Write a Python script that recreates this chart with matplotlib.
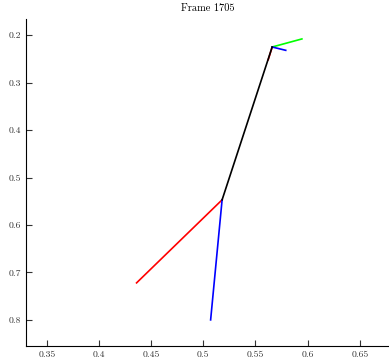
import matplotlib
matplotlib.use("Agg")
import matplotlib.pyplot as plt

plt.rcParams['font.family'] = 'serif'
plt.rcParams['font.serif'] = ['cmr10', 'DejaVu Serif']
plt.rcParams['axes.formatter.use_mathtext'] = True

# segments: (x0, x1), (y0, y1), color
seg_names = ["spine_red", "head_green", "head_blue", "leg_red", "leg_blue", "torso"]
seg_x = [[0.566, 0.5622], [0.566, 0.5945], [0.566, 0.579], [0.518, 0.436], [0.518, 0.507], [0.566, 0.518]]
seg_y = [[0.225, 0.252], [0.225, 0.208], [0.225, 0.232], [0.547, 0.722], [0.547, 0.800], [0.225, 0.547]]
seg_c = ["red", "#00ff00", "blue", "red", "blue", "black"]

xticks = [0.35, 0.4, 0.45, 0.5, 0.55, 0.6, 0.65]
yticks = [0.2, 0.3, 0.4, 0.5, 0.6, 0.7, 0.8]

fig = plt.figure(figsize=(3.89, 3.62), dpi=100)
ax = fig.add_axes([26/389, 16/362, 1 - 26/389, (346-19)/362])
for xs, ys, c in zip(seg_x, seg_y, seg_c):
    ax.plot(xs, ys, color=c, lw=1.2)
ax.set_xlim(0.330, 0.678)
ax.set_ylim(0.855, 0.166)
ax.set_xticks(xticks)
ax.set_xticklabels([f"{v:g}" for v in xticks])
ax.set_yticks(yticks)
ax.set_yticklabels([f"{v:g}" for v in yticks])
for s in ['top', 'right']:
    ax.spines[s].set_visible(False)
ax.tick_params(direction='in', length=4, labelsize=7, colors='#333333')
ax.set_title("Frame 1705", fontsize=7.5, pad=6)
fig.savefig("out.png", dpi=100)
